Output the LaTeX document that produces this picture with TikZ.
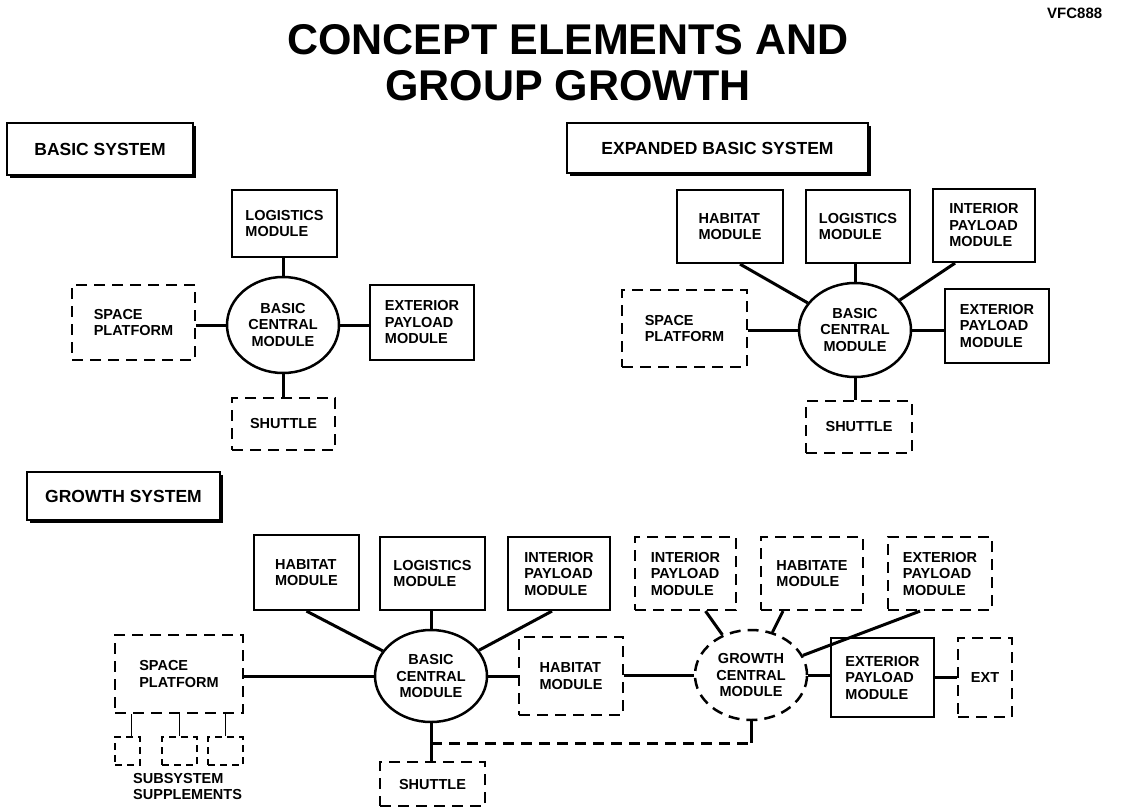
\documentclass[tikz,border=0pt]{standalone}
\usepackage{fontspec}
\setmainfont{Liberation Sans}
\usetikzlibrary{shapes.geometric,shadows}
\newcommand\modfont{\bfseries\fontsize{14.5}{16.5}\selectfont}
\newcommand\tagfont{\bfseries\fontsize{17.5}{20}\selectfont}
\newcommand\headfont{\bfseries\fontsize{43}{46}\selectfont}
\begin{document}
\begin{tikzpicture}[x=1pt,y=-1pt,
  solidbox/.style={draw,line width=2.2pt,inner sep=0pt,align=left,font=\modfont},
  dashbox/.style={solidbox,dash pattern=on 11pt off 7pt},
  hub/.style={ellipse,draw,line width=2.5pt,inner sep=0pt,align=center,font=\modfont},
  dashhub/.style={hub,dash pattern=on 11pt off 7pt},
  link/.style={line width=3pt},
  dashlink/.style={link,dash pattern=on 11pt off 7pt},
  stub/.style={line width=1.6pt},
  tag/.style={draw,line width=2pt,fill=white,inner sep=0pt,font=\tagfont,
    drop shadow={shadow xshift=3pt,shadow yshift=-3pt,opacity=1,fill=black}},
  headline/.style={anchor=base,font=\headfont,inner sep=0pt}]
\useasboundingbox (0,0) rectangle (1121,809);

% heading
\node[headline] (h1) at (568,54) {CONCEPT ELEMENTS AND};
\node[headline] (h2) at (568,100) {GROUP GROWTH};
\node[anchor=base west,inner sep=0pt,font=\bfseries\fontsize{15}{17}\selectfont] (code) at (1047,18) {VFC888};

% ---------- basic system ----------
\node[tag,minimum width=186pt,minimum height=52pt] (tagB) at (100,149) {BASIC SYSTEM};
\node[hub,minimum width=112pt,minimum height=96pt] (bcmB) at (283,325) {BASIC\\CENTRAL\\MODULE};
\node[solidbox,minimum width=105pt,minimum height=67pt] (logB) at (284.5,223.5) {LOGISTICS\\MODULE};
\node[dashbox,minimum width=123pt,minimum height=75pt] (spB) at (133.5,322.5) {SPACE\\PLATFORM};
\node[solidbox,minimum width=104pt,minimum height=75pt] (extB) at (422,322.5) {EXTERIOR\\PAYLOAD\\MODULE};
\node[dashbox,minimum width=103pt,minimum height=52pt] (shB) at (283.5,424) {SHUTTLE};

\draw[link] (bcmB.north) -- (bcmB.north |- logB.south);
\draw[link] (bcmB.west) -- (bcmB.west -| spB.east);
\draw[link] (bcmB.east) -- (bcmB.east -| extB.west);
\draw[link] (bcmB.south) -- (bcmB.south |- shB.north);

% ---------- expanded basic system ----------
\node[tag,minimum width=301pt,minimum height=50pt] (tagE) at (717.5,148) {EXPANDED BASIC SYSTEM};
\node[hub,minimum width=112pt,minimum height=94pt] (bcmE) at (855,330) {BASIC\\CENTRAL\\MODULE};
\node[solidbox,minimum width=106pt,minimum height=73pt] (habE) at (730,226.5) {HABITAT\\MODULE};
\node[solidbox,minimum width=104pt,minimum height=73pt] (logE) at (858,226.5) {LOGISTICS\\MODULE};
\node[solidbox,minimum width=102pt,minimum height=73pt] (intE) at (984,225.5) {INTERIOR\\PAYLOAD\\MODULE};
\node[dashbox,minimum width=125pt,minimum height=77pt] (spE) at (684.5,328.5) {SPACE\\PLATFORM};
\node[solidbox,minimum width=104pt,minimum height=74pt] (extE) at (997,326) {EXTERIOR\\PAYLOAD\\MODULE};
\node[dashbox,minimum width=106pt,minimum height=52pt] (shE) at (859,427) {SHUTTLE};

\draw[link] ([xshift=10pt]habE.south) -- (bcmE);
\draw[link] (bcmE.north) -- (bcmE.north |- logE.south);
\draw[link] ([xshift=-29pt]intE.south) -- (bcmE);
\draw[link] (bcmE.west) -- (bcmE.west -| spE.east);
\draw[link] (bcmE.east) -- (bcmE.east -| extE.west);
\draw[link] (bcmE.south) -- (bcmE.south |- shE.north);

% ---------- growth system ----------
\node[tag,minimum width=193pt,minimum height=48pt] (tagG) at (123.5,496) {GROWTH SYSTEM};
\node[hub,minimum width=112pt,minimum height=92pt] (bcmG) at (431,676) {BASIC\\CENTRAL\\MODULE};
\node[dashhub,minimum width=112pt,minimum height=90pt] (gcm) at (751,675) {GROWTH\\CENTRAL\\MODULE};

\node[solidbox,minimum width=105pt,minimum height=75pt] (habG) at (306.5,572.5) {HABITAT\\MODULE};
\node[solidbox,minimum width=105pt,minimum height=73pt] (logG) at (432.5,573.5) {LOGISTICS\\MODULE};
\node[solidbox,minimum width=102pt,minimum height=73pt] (intG) at (559,573.5) {INTERIOR\\PAYLOAD\\MODULE};
\node[dashbox,minimum width=101pt,minimum height=73pt] (intD) at (685.5,573.5) {INTERIOR\\PAYLOAD\\MODULE};
\node[dashbox,minimum width=102pt,minimum height=73pt] (habD) at (812,573.5) {HABITATE\\MODULE};
\node[dashbox,minimum width=104pt,minimum height=73pt] (extD) at (940,573.5) {EXTERIOR\\PAYLOAD\\MODULE};

\node[dashbox,minimum width=128pt,minimum height=78pt] (spG) at (179,674) {SPACE\\PLATFORM};
\node[dashbox,minimum width=104pt,minimum height=78pt] (hmG) at (571,676) {HABITAT\\MODULE};
\node[solidbox,minimum width=103pt,minimum height=79pt] (extG) at (882.5,677.5) {EXTERIOR\\PAYLOAD\\MODULE};
\node[dashbox,minimum width=54pt,minimum height=79pt] (extS) at (985,677.5) {EXT};
\node[dashbox,minimum width=105pt,minimum height=44pt] (shG) at (432.5,784) {SHUTTLE};

% subsystem supplements under the platform
\node[dashbox,line width=2pt,dash pattern=on 7pt off 5pt,minimum width=25pt,minimum height=28pt] (sub1) at (127.5,751) {};
\node[dashbox,line width=2pt,dash pattern=on 7pt off 5pt,minimum width=35pt,minimum height=28pt] (sub2) at (179.5,751) {};
\node[dashbox,line width=2pt,dash pattern=on 7pt off 5pt,minimum width=35pt,minimum height=28pt] (sub3) at (225.5,751) {};
\node[anchor=north west,inner sep=0pt,align=left,font=\modfont] (subtxt) at (133,773) {SUBSYSTEM\\SUPPLEMENTS};
\draw[stub] ([xshift=4pt]sub1.north) -- ([xshift=4pt]sub1.north |- spG.south);
\draw[stub] (sub2.north) -- (sub2.north |- spG.south);
\draw[stub] (sub3.north) -- (sub3.north |- spG.south);

% connectors of the basic central module
\draw[link] (habG.south) -- (bcmG);
\draw[link] (bcmG.north) -- (bcmG.north |- logG.south);
\draw[link] ([xshift=-7pt]intG.south) -- (bcmG);
\draw[link] (bcmG.west) -- (bcmG.west -| spG.east);
\draw[link] (bcmG.east) -- (bcmG.east -| hmG.west);
\draw[link] (bcmG.south) -- (bcmG.south |- shG.north);

% connectors of the growth central module
\draw[link] (gcm.west) -- (gcm.west -| hmG.east);
\draw[link] (gcm.east) -- (gcm.east -| extG.west);
\draw[link] (extG.east) -- (extS.west);
\draw[link] ([xshift=20pt]intD.south) -- (gcm);
\draw[link] ([xshift=-29pt]habD.south) -- (gcm);
\draw[link] ([xshift=-20pt]extD.south) -- (gcm);

% dashed tie from the shuttle line to the growth module
\coordinate (tie) at (bcmG.south |- 0,743);
\draw[dashlink] (tie) -- (tie -| gcm.south);
\draw[link] (gcm.south) -- (tie -| gcm.south);
\end{tikzpicture}
\end{document}
